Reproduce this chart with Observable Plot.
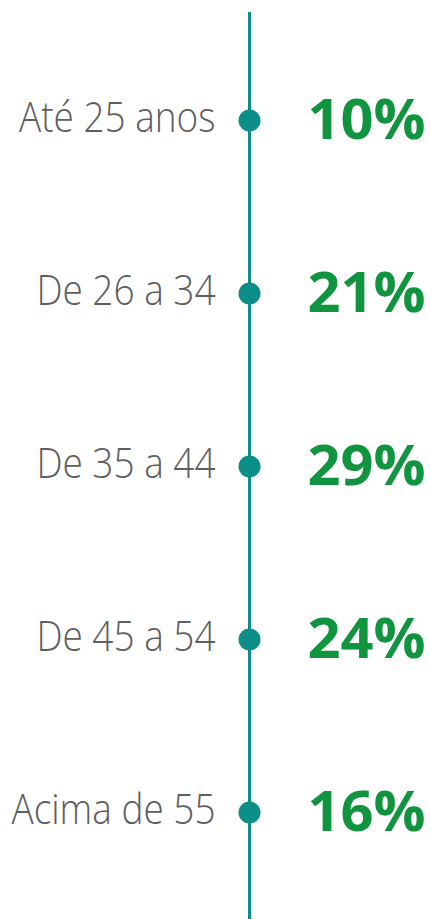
<!DOCTYPE html>
<html>
<head>
<meta charset="utf-8">
<script src="https://cdn.jsdelivr.net/npm/d3@7"></script>
<script src="https://cdn.jsdelivr.net/npm/@observablehq/plot@0.6"></script>
<style>
  html, body { margin: 0; padding: 0; background: #fff; }
  #chart svg { display: block; }
</style>
</head>
<body>
<div id="chart"></div>
<script>
const categories = ["Até 25 anos", "De 26 a 34", "De 35 a 44", "De 45 a 54", "Acima de 55"];
const shares = [10, 21, 29, 24, 16];
const valueLabels = ["10%", "21%", "29%", "24%", "16%"];

const data = categories.map((c, i) => ({category: c, share: shares[i], label: valueLabels[i]}));

const teal = "#0b8d88";
const green = "#11943f";

const chart = Plot.plot({
  width: 430,
  height: 919,
  marginTop: 12,
  marginBottom: 0,
  marginLeft: 0,
  marginRight: 0,
  x: {type: "linear", domain: [0, 1], range: [249, 249], axis: null},
  y: {type: "point", domain: categories, range: [119, 812], padding: 0, axis: null},
  style: {background: "#fff"},
  marks: [
    Plot.ruleX([0], {stroke: teal, strokeWidth: 3}),
    Plot.dot(data, {x: () => 0, y: "category", r: 11, fill: teal, stroke: "none"}),
    Plot.text(data, {
      x: () => 0, y: "category", text: "category",
      textAnchor: "end", dx: -34, dy: -2,
      fontSize: 42, fontWeight: 300, fill: "#5e5e5e",
      fontFamily: "'Open Sans', sans-serif",
      className: "cat-label"
    }),
    Plot.text(data, {
      x: () => 0, y: "category", text: "label",
      textAnchor: "end", dx: 176, dy: 1,
      fontSize: 55, fontWeight: 700, fill: green,
      fontFamily: "'Open Sans', sans-serif",
      className: "val-label"
    })
  ]
});
document.getElementById("chart").appendChild(chart);
d3.select(chart).selectAll("g.cat-label text").each(function() {
  const t = this.getAttribute("transform") || "";
  this.setAttribute("transform", t + " scale(0.88,1)");
});
d3.select(chart).selectAll("g.val-label text").each(function() {
  const t = this.getAttribute("transform") || "";
  this.setAttribute("transform", t + " scale(1.05,1)");
});
</script>
</body>
</html>
